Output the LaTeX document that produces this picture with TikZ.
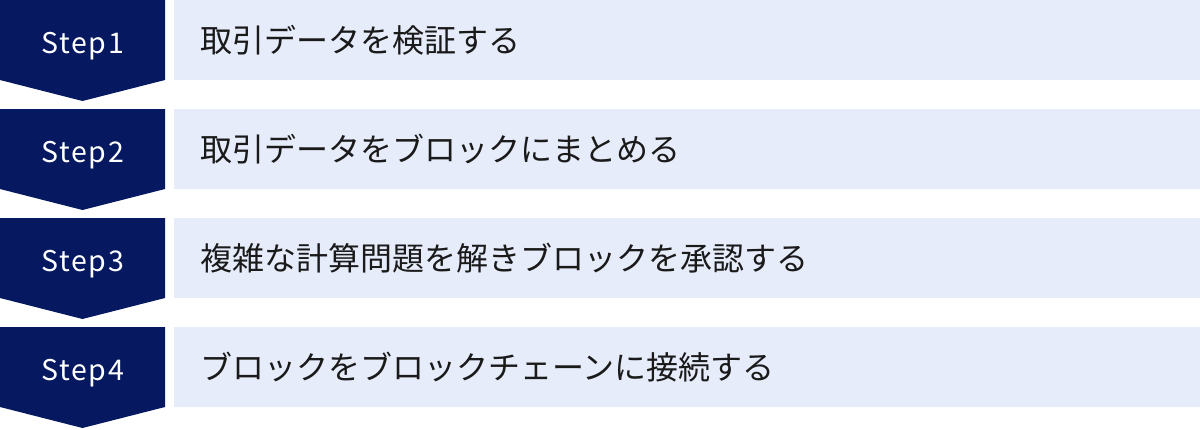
\documentclass[tikz,border=0pt]{standalone}
\usepackage{fontspec}
\setmainfont{Noto Sans CJK JP}
\newfontfamily\stepfont[LetterSpace=6]{Noto Sans CJK JP}
\definecolor{navy}{RGB}{6,24,96}
\definecolor{pale}{RGB}{230,236,250}
\definecolor{ink}{RGB}{26,26,26}
\begin{document}
\begin{tikzpicture}[x=1pt,y=-1pt,
  stepshape/.style={fill=navy,draw=none},
  bar/.style={fill=pale,draw=none},
  steplabel/.style={text=white,font=\stepfont\fontsize{28.5}{32}\selectfont,inner sep=0pt,anchor=base},
  barlabel/.style={text=ink,font=\fontsize{32}{36}\selectfont,inner sep=0pt,anchor=west}]
\useasboundingbox (0,0) rectangle (1200,429);
\foreach \i/\t in {1/取引データを検証する,2/取引データをブロックにまとめる,3/複雑な計算問題を解きブロックを承認する,4/ブロックをブロックチェーンに接続する}{
  \pgfmathsetmacro{\top}{(\i-1)*109}
  \fill[stepshape] (0,\top) -- (165,\top) -- (165,\top+80) -- (82.5,\top+101) -- (0,\top+80) -- cycle;
  \fill[bar] (174,\top) rectangle (1200,\top+80);
  \node[steplabel] (s\i) at (82.5,\top+53) {Step\i};
  \node[barlabel] (b\i) at (200,\top+40) {\t};
}
\end{tikzpicture}
\end{document}
